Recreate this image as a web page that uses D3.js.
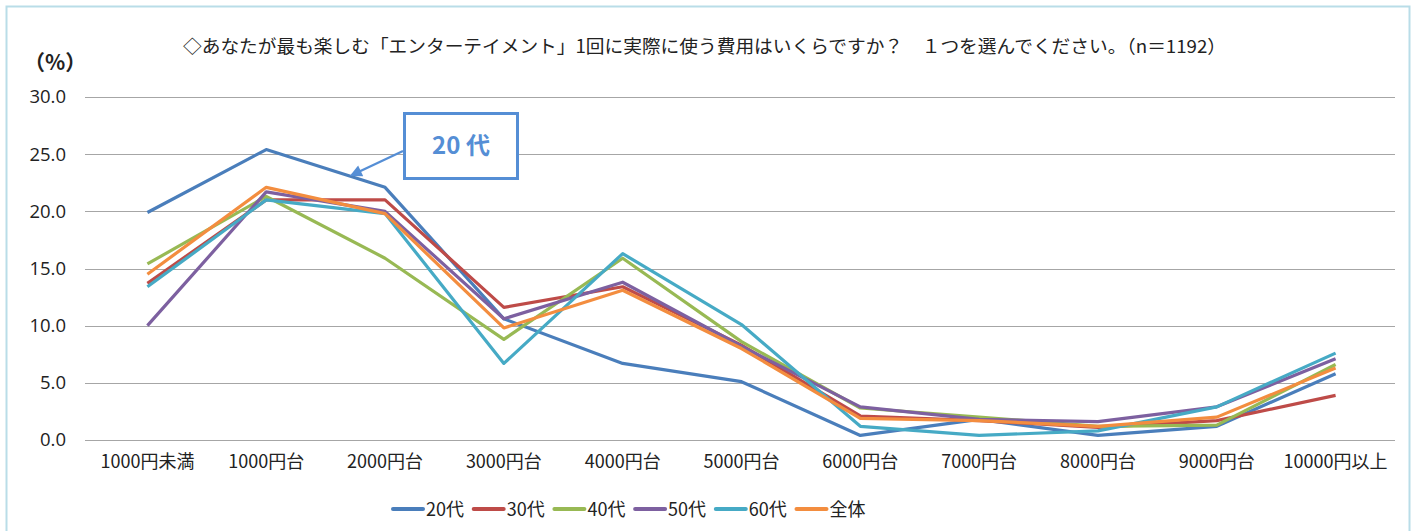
<!DOCTYPE html>
<html>
<head>
<meta charset="utf-8">
<script src="https://cdn.jsdelivr.net/npm/d3@7"></script>
<style>
  body { margin: 0; background: #fff; }
  svg text { font-family: "Noto Sans CJK JP", "Noto Sans", sans-serif; fill: #222; }
</style>
</head>
<body>
<div id="chart"></div>
<script>
// data
const categories = ['1000円未満', '1000円台', '2000円台', '3000円台', '4000円台', '5000円台',
                    '6000円台', '7000円台', '8000円台', '9000円台', '10000円以上'];
const seriesNames = ['20代', '30代', '40代', '50代', '60代', '全体'];
const s20 = [19.9, 25.4, 22.1, 10.6, 6.7, 5.1, 0.4, 1.8, 0.4, 1.2, 5.8];
const s30 = [13.7, 21.0, 21.0, 11.6, 13.4, 8.3, 2.1, 1.7, 1.1, 1.7, 3.9];
const s40 = [15.4, 21.3, 15.9, 8.8, 15.9, 8.6, 2.8, 2.0, 1.2, 1.3, 6.6];
const s50 = [10.0, 21.7, 20.0, 10.6, 13.8, 8.2, 2.9, 1.8, 1.6, 2.9, 7.1];
const s60 = [13.4, 21.0, 19.8, 6.7, 16.3, 10.1, 1.2, 0.4, 0.8, 2.9, 7.6];
const sAll = [14.5, 22.1, 19.8, 9.8, 13.1, 8.0, 1.9, 1.7, 1.2, 2.0, 6.3];
const yTicks = [0, 5, 10, 15, 20, 25, 30];
const colors = ['#4a7ebb', '#be4b48', '#98b954', '#7d60a0', '#46aac5', '#f38d3f'];

const width = 1416, height = 531;
const seriesVals = [s20, s30, s40, s50, s60, sAll];

const svg = d3.select('#chart').append('svg')
    .attr('width', width)
    .attr('height', height);

// chart frame
svg.append('rect')
    .attr('x', 6.5).attr('y', 6.5)
    .attr('width', 1403).attr('height', 560)
    .attr('fill', 'none')
    .attr('stroke', '#b9dde8')
    .attr('stroke-width', 2);

const x = d3.scaleBand().domain(categories).range([88, 1395]).paddingInner(0);
const y = d3.scaleLinear().domain([0, 30]).range([440, 97]);
const cx = d => x(d) + x.bandwidth() / 2;

// gridlines
svg.append('g').selectAll('line')
    .data(yTicks)
    .enter().append('line')
    .attr('x1', 85).attr('x2', 1395)
    .attr('y1', d => Math.round(y(d)) + 0.5)
    .attr('y2', d => Math.round(y(d)) + 0.5)
    .attr('stroke', '#a6a6a6')
    .attr('stroke-width', 1);

// y axis labels
const yAxis = svg.append('g')
    .attr('transform', 'translate(66,0)')
    .call(d3.axisLeft(y).tickValues(yTicks).tickFormat(d3.format('.1f')).tickSize(0).tickPadding(0));
yAxis.select('.domain').remove();
yAxis.selectAll('text')
    .style('font-size', '18.5px')
    .style('font-family', '"Open Sans", "Noto Sans", sans-serif')
    .attr('fill', '#222');

// x axis labels
const xAxis = svg.append('g')
    .attr('transform', 'translate(0,455)')
    .call(d3.axisBottom(x).tickSize(0).tickPadding(0));
xAxis.select('.domain').remove();
xAxis.selectAll('text')
    .style('font-size', '18px')
    .attr('fill', '#222');

// lines
const line = d3.line()
    .x((d, i) => cx(categories[i]))
    .y(d => y(d));

svg.append('g').selectAll('path')
    .data(seriesVals)
    .enter().append('path')
    .attr('d', d => line(d))
    .attr('fill', 'none')
    .attr('stroke', (d, i) => colors[i])
    .attr('stroke-width', 3.2)
    .attr('stroke-linejoin', 'round');

// title
svg.append('text')
    .attr('x', 183).attr('y', 53)
    .attr('textLength', 1043)
    .attr('lengthAdjust', 'spacingAndGlyphs')
    .style('font-size', '18px')
    .text('◇あなたが最も楽しむ「エンターテイメント」1回に実際に使う費用はいくらですか？　１つを選んでください。（n＝1192）');

// unit label
svg.append('text')
    .attr('x', 24).attr('y', 70)
    .style('font-size', '21px')
    .style('font-weight', 'bold')
    .text('（%）');

// annotation for 20代
const note = svg.append('g');
note.append('rect')
    .attr('x', 404.5).attr('y', 113.5)
    .attr('width', 113).attr('height', 65)
    .attr('fill', '#fff')
    .attr('stroke', '#558ed5')
    .attr('stroke-width', 3);
note.append('text')
    .attr('x', 461).attr('y', 154)
    .attr('text-anchor', 'middle')
    .style('font-size', '24px')
    .style('font-weight', 'bold')
    .style('fill', '#558ed5')
    .text('20 代');
svg.append('defs').append('marker')
    .attr('id', 'arrow')
    .attr('viewBox', '0 0 10 10')
    .attr('refX', 8).attr('refY', 5)
    .attr('markerWidth', 5.5).attr('markerHeight', 5)
    .attr('markerUnits', 'strokeWidth')
    .attr('orient', 'auto')
    .append('path')
    .attr('d', 'M0,0 L10,5 L0,10 z')
    .attr('fill', '#558ed5');
note.append('line')
    .attr('x1', 403).attr('y1', 151)
    .attr('x2', 352).attr('y2', 175)
    .attr('stroke', '#558ed5')
    .attr('stroke-width', 2.4)
    .attr('marker-end', 'url(#arrow)');

// legend
const legend = svg.append('g').attr('transform', 'translate(392,509)');
const item = legend.selectAll('g')
    .data(seriesNames)
    .enter().append('g')
    .attr('transform', (d, i) => `translate(${i * 80.7},0)`);
item.append('line')
    .attr('x1', 1).attr('x2', 31)
    .attr('y1', 0).attr('y2', 0)
    .attr('stroke', (d, i) => colors[i])
    .attr('stroke-width', 4)
    .attr('stroke-linecap', 'round');
item.append('text')
    .attr('x', 34).attr('y', 6.5)
    .style('font-size', '18px')
    .text(d => d);
</script>
</body>
</html>
